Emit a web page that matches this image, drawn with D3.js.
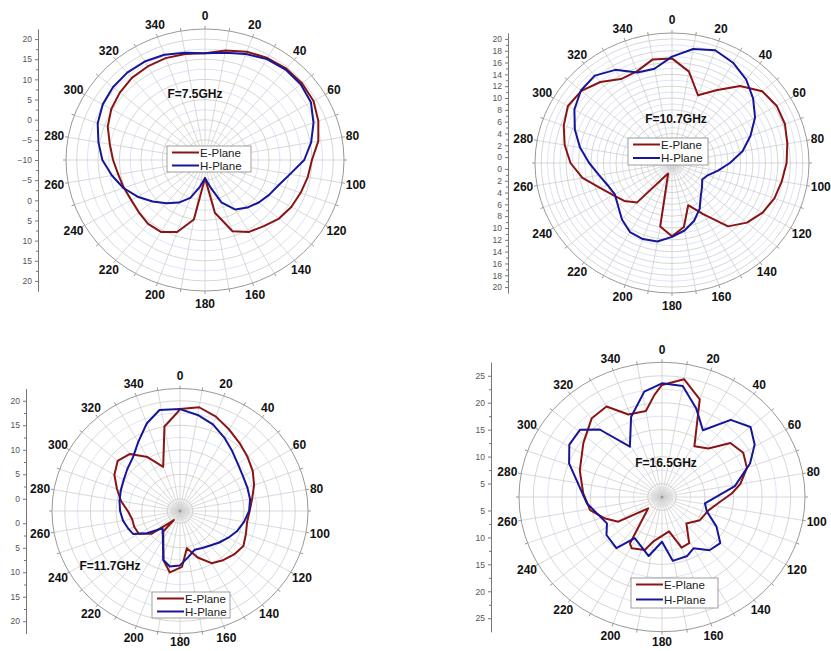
<!DOCTYPE html>
<meta charset="utf-8">
<head>
<style>
body { margin: 0; background: #fff; }
svg { font-family: "Liberation Sans", Arial, sans-serif; }
.ang { font-weight: bold; font-size: 12px; fill: #111; }
.ttl { font-weight: bold; font-size: 12px; fill: #111; }
.leg text { font-size: 11.5px; fill: #222; }
.rax text { font-size: 8.5px; fill: #555; font-family: "Liberation Sans", Arial, sans-serif; }
.rax path, .rax line { stroke: #777; }
</style>
</head>
<body>
<script src="https://d3js.org/d3.v7.min.js"></script>
<script>

// radiation patterns, [angle in degrees, gain]
var e75 = [[0,16.5],[10,17.6],[20,18.6],[30,19.2],[40,19.6],[50,19.6],[60,19.3],[70,18.2],[80,16.9],[90,15.0],
  [100,14.4],[110,13.8],[120,13.3],[130,12.6],[140,11.4],[150,10.6],[160,8.8],[170,3.3],[180,-5.5],[190,5.0],
  [200,9.0],[210,10.6],[220,10.7],[230,10.2],[240,9.9],[250,10.2],[260,10.6],[270,11.5],[280,12.6],[290,14.2],
  [300,15.3],[310,16.0],[320,16.6],[330,16.8],[340,16.9],[350,16.7]];
var h75 = [[0,16.5],[10,17.0],[20,18.0],[30,18.9],[40,19.3],[50,19.2],[60,18.6],[70,17.0],[80,15.2],[90,13.2],
  [100,10.2],[110,8.3],[120,7.3],[130,6.4],[140,5.4],[150,4.2],[160,1.2],[170,-3.3],[180,-5.5],[190,-3.3],
  [200,0],[210,2.2],[220,4.0],[230,6.0],[240,8.2],[250,10.3],[260,12.1],[270,14.0],[280,15.3],[290,16.7],
  [300,17.6],[310,18.1],[320,18.3],[330,18.2],[340,17.8],[350,17.0]];

var e107 = [[0,16.7],[10,14.7],[20,11.2],[30,13.2],[40,16.0],[50,17.9],[60,18.4],[70,18.3],[80,17.8],[90,17.4],
  [100,16.9],[110,16.5],[120,15.8],[130,14.7],[140,13.0],[150,9.0],[160,6.6],[170,10.0],[180,11.4],[190,9.9],
  [199,0.9],[210,2.1],[220,7.7],[230,9.0],[240,9.9],[250,11.3],[260,13.6],[270,15.3],[280,16.5],[290,17.5],
  [300,18.3],[310,18.0],[320,16.9],[330,15.4],[340,15.5],[350,16.8]];
var h107 = [[0,17.0],[10,18.6],[20,19.3],[30,18.6],[40,17.5],[50,16.0],[60,14.4],[70,12.4],[80,10.5],[90,8.3],
  [100,6.5],[110,5.1],[120,4.6],[130,5.3],[140,6.2],[150,7.9],[160,9.4],[170,10.6],[180,11.5],[190,12.5],
  [200,12.7],[210,12.5],[220,11.5],[230,10.3],[240,9.6],[250,10.0],[260,10.9],[270,12.3],[280,14.0],[290,15.6],
  [300,17.1],[310,18.1],[320,18.3],[330,17.2],[340,15.3],[350,15.2]];

var e117 = [[0,18.3],[10,19.0],[20,18.0],[30,16.7],[40,15.6],[50,14.7],[60,13.9],[70,12.9],[80,11.8],[90,11.1],
  [100,10.8],[110,11.2],[120,11.8],[130,11.3],[140,10.6],[150,9.8],[160,7.6],[170,5.2],[178,8.9],[189,10.2],
  [198,8.0],[218,2.8],[213,-0.3],[230,4.7],[240,6.8],[250,7.0],[260,7.0],[270,7.7],[280,9.2],[290,10.6],
  [300,12.3],[310,13.4],[320,12.7],[330,10.2],[340,7.1],[350,15.0],[358,17.4]];
var h117 = [[0,18.3],[10,17.4],[20,16.3],[30,14.8],[40,13.4],[50,12.3],[60,11.7],[70,11.5],[80,11.4],[90,11.0],
  [100,10.2],[110,9.4],[120,8.4],[130,7.5],[140,6.7],[150,6.2],[160,5.9],[170,7.0],[180,8.6],[190,9.0],
  [198,8.0],[224,2.4],[235,5.4],[243,7.8],[250,8.2],[260,8.8],[270,9.2],[280,9.5],[290,9.8],[300,10.2],
  [310,10.9],[320,11.8],[330,13.8],[340,16.5],[349,18.5]];

var e165 = [[0,23.3],[10,24.7],[20,21.8],[31,13.5],[42,14.6],[50,18.1],[60,18.9],[70,18.3],[80,16.4],[87,14.7],
  [95,12.7],[107,11.0],[123,10.4],[139,9.0],[151,12.3],[160,12.5],[169,9.0],[190,10.8],[197,12.8],[209,13.4],
  [213,12.8],[229,5.7],[239,11.4],[248,13.2],[259,15.3],[273,16.3],[289,17.7],[306,19.5],[320,21.6],[330,21.9],
  [339,18.9],[350,18.7],[356,21.5]];
var h165 = [[0,23.6],[10,23.4],[20,20.0],[30,16.8],[40,21.2],[50,22.7],[59,21.4],[68,19.1],[81,15.4],[99,10.1],
  [109,10.8],[120,13.5],[130,15.8],[140,15.4],[150,13.5],[158,14.3],[171,14.5],[180,10.8],[192,13.7],[212,11.5],
  [220,14.9],[234,14.5],[243,13.3],[265,15.7],[291,19.9],[301,21.4],[311,21.5],[319,19.1],[329,13.4],[340,18.3],
  [351,22.3]];

// radial axis ticks
var ticks75 = [-10, -5, 0, 5, 10, 15, 20];
var ticks107 = [0, 2, 4, 6, 8, 10, 12, 14, 16, 18, 20];
var ticks117 = [0, 5, 10, 15, 20];
var ticks165 = [5, 10, 15, 20, 25];

var angleLabels = [0, 20, 40, 60, 80, 100, 120, 140, 160, 180, 200, 220, 240, 260, 280, 300, 320, 340];
var seriesNames = ["E-Plane", "H-Plane"];
var colors = ["#8a1414", "#16169a"];

var plots = [
  { title: "F=7.5GHz", e: e75, h: h75, ticks: ticks75, dom: [-10, 22.5], minor: 2.5,
    cx: 205, cy: 160, rx: 139, ry: 131, axisX: 38, tx: 195, ty: 98, leg: [167, 146, 84, 26] },
  { title: "F=10.7GHz", e: e107, h: h107, ticks: ticks107, dom: [-1, 21], minor: 1,
    cx: 672, cy: 163, rx: 137, ry: 130, axisX: 508, tx: 676, ty: 123, leg: [628, 138, 80, 27] },
  { title: "F=11.7GHz", e: e117, h: h117, ticks: ticks117, dom: [-2.5, 22.5], minor: 2.5,
    cx: 180, cy: 511, rx: 128, ry: 122.5, axisX: 26, tx: 110, ty: 570, leg: [152, 592, 78, 26] },
  { title: "F=16.5GHz", e: e165, h: h165, ticks: ticks165, dom: [2.5, 27.5], minor: 2.5,
    cx: 662, cy: 497, rx: 143, ry: 134.7, axisX: 491, tx: 666, ty: 467, leg: [631, 578, 87, 30] }
];

var svg = d3.select("body").append("svg")
    .attr("width", 831)
    .attr("height", 651);

var rad = Math.PI / 180;

plots.forEach(function(p) {
  var g = svg.append("g");
  var r = d3.scaleLinear().domain(p.dom).range([0, 1]);

  function px(a, v) { return p.cx + p.rx * r(v) * Math.sin(a * rad); }
  function py(a, v) { return p.cy - p.ry * r(v) * Math.cos(a * rad); }

  // grid circles
  var minorVals = d3.range(p.dom[0] + p.minor, p.dom[1], p.minor);
  g.selectAll(".gc").data(minorVals).enter().append("ellipse")
      .attr("cx", p.cx).attr("cy", p.cy)
      .attr("rx", function(d) { return p.rx * r(d); })
      .attr("ry", function(d) { return p.ry * r(d); })
      .attr("fill", "none")
      .attr("stroke", function(d) { return p.ticks.indexOf(d) >= 0 ? "#c4c4c4" : "#cdd9f0"; })
      .attr("stroke-width", 0.7);

  // spokes
  g.selectAll(".sp").data(d3.range(0, 360, 10)).enter().append("line")
      .attr("x1", p.cx).attr("y1", p.cy)
      .attr("x2", function(d) { return p.cx + p.rx * Math.sin(d * rad); })
      .attr("y2", function(d) { return p.cy - p.ry * Math.cos(d * rad); })
      .attr("stroke", "#c8c8c8").attr("stroke-width", 0.7);
  g.selectAll(".ss").data(d3.range(5, 360, 10)).enter().append("line")
      .attr("x1", p.cx).attr("y1", p.cy)
      .attr("x2", function(d) { return p.cx + p.rx * 0.08 * Math.sin(d * rad); })
      .attr("y2", function(d) { return p.cy - p.ry * 0.08 * Math.cos(d * rad); })
      .attr("stroke", "#d0d0d0").attr("stroke-width", 0.5);
  g.append("circle").attr("cx", p.cx).attr("cy", p.cy).attr("r", 1.5).attr("fill", "#999");

  // outer circle + ticks
  g.append("ellipse").attr("cx", p.cx).attr("cy", p.cy).attr("rx", p.rx).attr("ry", p.ry)
      .attr("fill", "none").attr("stroke", "#999").attr("stroke-width", 1);
  g.selectAll(".ot").data(d3.range(0, 360, 10)).enter().append("line")
      .attr("x1", function(d) { return p.cx + p.rx * Math.sin(d * rad); })
      .attr("y1", function(d) { return p.cy - p.ry * Math.cos(d * rad); })
      .attr("x2", function(d) { return p.cx + (p.rx + 3) * Math.sin(d * rad); })
      .attr("y2", function(d) { return p.cy - (p.ry + 3) * Math.cos(d * rad); })
      .attr("stroke", "#999");

  // angle labels
  g.selectAll(".ang").data(angleLabels).enter().append("text")
      .attr("class", "ang")
      .attr("text-anchor", "middle")
      .attr("dy", "0.36em")
      .attr("x", function(d) {
        var s = Math.sin(d * rad), hw = String(d).length * 3.4;
        return p.cx + (p.rx + 4 + hw * Math.abs(s)) * s;
      })
      .attr("y", function(d) {
        var c = Math.cos(d * rad);
        return Math.min(p.cy - (p.ry + 8 + 5 * Math.abs(c)) * c, 642);
      })
      .text(function(d) { return d; });

  // radial axis on the left, mirrored below the centre
  var up = d3.scaleLinear().domain(p.dom).range([p.cy, p.cy - p.ry]);
  var down = d3.scaleLinear().domain(p.dom).range([p.cy, p.cy + p.ry]);
  var minorTicks = minorVals.filter(function(d) { return p.ticks.indexOf(d) < 0; });
  [up, down].forEach(function(sc, i) {
    var tv = i === 0 ? p.ticks : p.ticks.filter(function(d) { return d !== p.dom[0]; });
    g.append("g").attr("class", "rax")
        .attr("transform", "translate(" + p.axisX + ",0)")
        .call(d3.axisLeft(sc).tickValues(tv).tickSize(3).tickSizeOuter(0).tickPadding(3));
    g.append("g").attr("class", "rax")
        .attr("transform", "translate(" + p.axisX + ",0)")
        .call(d3.axisLeft(sc).tickValues(minorTicks).tickSize(2).tickSizeOuter(0).tickFormat(""));
  });

  // pattern curves
  var line = d3.line()
      .x(function(d) { return px(d[0], d[1]); })
      .y(function(d) { return py(d[0], d[1]); })
      .curve(d3.curveLinearClosed);
  [p.e, p.h].forEach(function(s, i) {
    g.append("path").attr("d", line(s))
        .attr("fill", "none").attr("stroke", colors[i])
        .attr("stroke-width", 2).attr("stroke-linejoin", "round");
  });

  g.append("text").attr("class", "ttl")
      .attr("x", p.tx).attr("y", p.ty).attr("text-anchor", "middle")
      .text(p.title);

  // legend
  var lg = g.append("g").attr("class", "leg");
  lg.append("rect").attr("x", p.leg[0]).attr("y", p.leg[1])
      .attr("width", p.leg[2]).attr("height", p.leg[3])
      .attr("fill", "#fff").attr("stroke", "#888").attr("stroke-width", 0.8);
  seriesNames.forEach(function(n, i) {
    var yy = p.leg[1] + 6.5 + i * 13 * p.leg[3] / 26;
    lg.append("line").attr("x1", p.leg[0] + 5).attr("x2", p.leg[0] + 32)
        .attr("y1", yy).attr("y2", yy)
        .attr("stroke", colors[i]).attr("stroke-width", 2);
    lg.append("text").attr("x", p.leg[0] + 33).attr("y", yy + 4).text(n);
  });
});

</script>
</body>
